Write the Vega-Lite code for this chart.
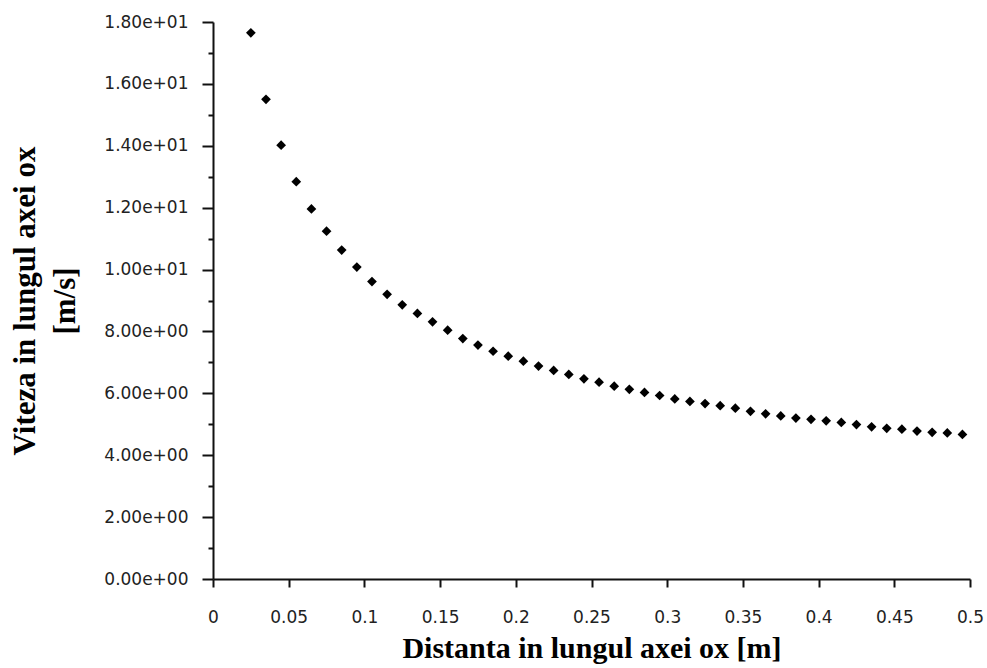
{
  "$schema": "https://vega.github.io/schema/vega-lite/v6.json",
  "autosize": {"type": "none"},
  "padding": {"left": 213, "top": 22, "right": 17, "bottom": 88},
  "width": 757,
  "height": 557,
  "background": "white",
  "config": {"view": {"stroke": null}},
  "data": {"values": [
    {"x": 0.025, "v": 17.65}, {"x": 0.035, "v": 15.5}, {"x": 0.045, "v": 14.02}, {"x": 0.055, "v": 12.84},
    {"x": 0.065, "v": 11.96}, {"x": 0.075, "v": 11.24}, {"x": 0.085, "v": 10.63}, {"x": 0.095, "v": 10.08},
    {"x": 0.105, "v": 9.61}, {"x": 0.115, "v": 9.2}, {"x": 0.125, "v": 8.86}, {"x": 0.135, "v": 8.58},
    {"x": 0.145, "v": 8.31}, {"x": 0.155, "v": 8.04}, {"x": 0.165, "v": 7.77}, {"x": 0.175, "v": 7.56},
    {"x": 0.185, "v": 7.36}, {"x": 0.195, "v": 7.2}, {"x": 0.205, "v": 7.04}, {"x": 0.215, "v": 6.88},
    {"x": 0.225, "v": 6.74}, {"x": 0.235, "v": 6.61}, {"x": 0.245, "v": 6.47}, {"x": 0.255, "v": 6.36},
    {"x": 0.265, "v": 6.23}, {"x": 0.275, "v": 6.13}, {"x": 0.285, "v": 6.03}, {"x": 0.295, "v": 5.93},
    {"x": 0.305, "v": 5.82}, {"x": 0.315, "v": 5.74}, {"x": 0.325, "v": 5.67}, {"x": 0.335, "v": 5.6},
    {"x": 0.345, "v": 5.52}, {"x": 0.355, "v": 5.42}, {"x": 0.365, "v": 5.34}, {"x": 0.375, "v": 5.27},
    {"x": 0.385, "v": 5.2}, {"x": 0.395, "v": 5.16}, {"x": 0.405, "v": 5.11}, {"x": 0.415, "v": 5.06},
    {"x": 0.425, "v": 4.99}, {"x": 0.435, "v": 4.92}, {"x": 0.445, "v": 4.87}, {"x": 0.455, "v": 4.84},
    {"x": 0.465, "v": 4.78}, {"x": 0.475, "v": 4.74}, {"x": 0.485, "v": 4.72}, {"x": 0.495, "v": 4.67}
  ]},
  "resolve": {"axis": {"y": "independent", "x": "independent"}},
  "layer": [
    {
      "mark": {"type": "point", "shape": "diamond", "filled": true, "color": "#000000", "size": 95, "opacity": 1},
      "encoding": {
        "x": {
          "field": "x", "type": "quantitative",
          "scale": {"domain": [0, 0.5], "nice": false, "zero": true},
          "axis": {
            "values": [0, 0.05, 0.1, 0.15, 0.2, 0.25, 0.3, 0.35, 0.4, 0.45, 0.5],
            "labelExpr": "'' + datum.value",
            "grid": false,
            "domainColor": "#111111", "domainWidth": 2,
            "tickColor": "#111111", "tickWidth": 2, "tickSize": 8,
            "labelFont": "DejaVu Sans", "labelFontSize": 17, "labelColor": "#222222",
            "labelPadding": 22, "labelFlush": false,
            "title": "Distanta in lungul axei ox [m]",
            "titleFont": "Liberation Serif", "titleFontSize": 30, "titleFontWeight": "bold",
            "titleColor": "#000000", "titlePadding": 8
          }
        },
        "y": {
          "field": "v", "type": "quantitative",
          "scale": {"domain": [0, 18], "nice": false},
          "axis": {
            "values": [0, 2, 4, 6, 8, 10, 12, 14, 16, 18],
            "labelExpr": "datum.value >= 10 ? format(datum.value / 10, '.2f') + 'e+01' : format(datum.value, '.2f') + 'e+00'",
            "grid": false,
            "domainColor": "#111111", "domainWidth": 2,
            "tickColor": "#111111", "tickWidth": 2, "tickSize": 11,
            "labelFont": "DejaVu Sans", "labelFontSize": 17, "labelColor": "#222222",
            "labelPadding": 14,
            "title": ["Viteza in lungul axei ox", "[m/s]"],
            "titleFont": "Liberation Serif", "titleFontSize": 31, "titleFontWeight": "bold",
            "titleColor": "#000000", "titlePadding": 22, "titleLineHeight": 40
          }
        }
      }
    },
    {
      "mark": {"type": "point", "opacity": 0},
      "encoding": {
        "x": {
          "field": "x", "type": "quantitative",
          "axis": {"values": [0], "labels": false, "domain": false, "ticks": false, "grid": false, "title": null, "orient": "bottom"}
        },
        "y": {
          "field": "v", "type": "quantitative",
          "axis": {
            "values": [1, 3, 5, 7, 9, 11, 13, 15, 17],
            "labels": false, "domain": false, "grid": false, "title": null, "orient": "left",
            "tickColor": "#111111", "tickWidth": 2, "tickSize": 5
          }
        }
      }
    }
  ]
}
